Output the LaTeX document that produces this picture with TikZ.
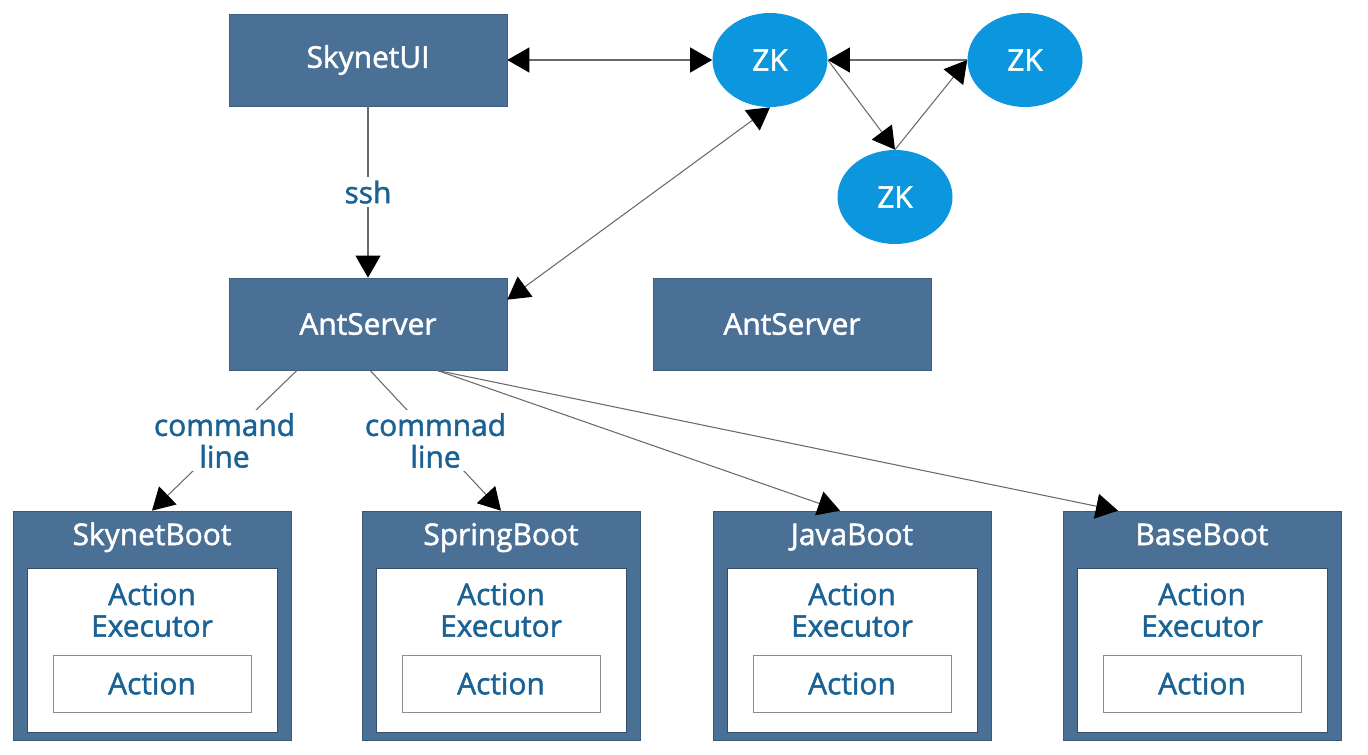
\documentclass[tikz,border=0pt]{standalone}
\usepackage{fontspec}
\setmainfont{Open Sans}[FakeBold=1.6]
\usepackage{xcolor}
\usetikzlibrary{arrows.meta,shapes.geometric}
\definecolor{boxblue}{RGB}{74,112,150}
\definecolor{zkblue}{RGB}{12,150,222}
\definecolor{textblue}{RGB}{26,98,148}
\definecolor{linegray}{RGB}{105,105,105}
\tikzset{>={Triangle[length=0.44cm,width=0.5cm,color=black]}}
\tikzset{%
    darkbox/.style={draw=boxblue!85!black,fill=boxblue,text=white,
        minimum width=5.56cm,minimum height=1.84cm,inner sep=0pt},
    zknode/.style={ellipse,fill=zkblue,text=white,
        minimum width=2.3cm,minimum height=1.88cm,inner sep=0pt},
    bootbox/.style={draw=boxblue!80!black,fill=boxblue,
        minimum width=5.56cm,minimum height=4.58cm,inner sep=0pt},
    boottitle/.style={text=white,inner sep=0pt,anchor=base},
    execbox/.style={draw=boxblue!70!black,fill=white,
        minimum width=5cm,minimum height=3.28cm,inner sep=0pt},
    exectext/.style={text=textblue,align=center,inner sep=0pt},
    actbox/.style={draw=black!45,fill=white,text=textblue,
        minimum width=3.96cm,minimum height=1.14cm,inner sep=0pt},
    lbl/.style={fill=white,text=textblue,align=center,inner sep=2pt},
    link/.style={draw=linegray,line width=0.6pt}
}

\begin{document}
\begin{tikzpicture}[x=0.02cm,y=-0.02cm,font=\fontsize{17}{18}\selectfont]
\useasboundingbox (0,0) rectangle (1368,754);

\node[darkbox] (ui)   at (368,60)  {SkynetUI};
\node[darkbox] (ant1) at (368,324) {AntServer};
\node[darkbox] (ant2) at (792,324) {AntServer};

\node[zknode] (zk1) at (770,60)  {ZK};
\node[zknode] (zk2) at (1025,60) {ZK};
\node[zknode] (zk3) at (895,197) {ZK};

\foreach \cx/\nm/\ttl in {152/sky/SkynetBoot,501/spring/SpringBoot,852/java/JavaBoot,1202/base/BaseBoot}{
    \node[bootbox]   (\nm)   at (\cx,625.5) {};
    \node[boottitle] (\nm-t) at (\cx,545)   {\ttl};
    \node[execbox]   (\nm-e) at (\cx,650)   {};
    \node[exectext]  (\nm-x) at (\cx,610)   {Action\\Executor};
    \node[actbox]    (\nm-a) at (\cx,683.5) {Action};
}

\draw[link,<->] (ui.east) -- (zk1.west);
\draw[link,->] (ui.south) -- node[lbl]{ssh} (ant1.north);
\draw[link,<->] ([yshift=-0.44cm]ant1.north east) -- (zk1.south);

\draw[link,->] (zk2.west) -- (zk1.east);
\draw[link,->] (zk1.east) -- (zk3.north);
\draw[link,->] (zk3.north) -- (zk2.west);

\draw[link,->] ([xshift=-1.42cm]ant1.south) -- node[lbl]{command\\line} (sky.north);
\draw[link,->] ([xshift=0.04cm]ant1.south) -- node[lbl]{commnad\\line} (spring.north);
\draw[link,->] ([xshift=1.38cm]ant1.south) -- ([xshift=-0.24cm]java.north);
\draw[link,->] ([xshift=1.38cm]ant1.south) -- ([xshift=-1.68cm]base.north);
\end{tikzpicture}
\end{document}
